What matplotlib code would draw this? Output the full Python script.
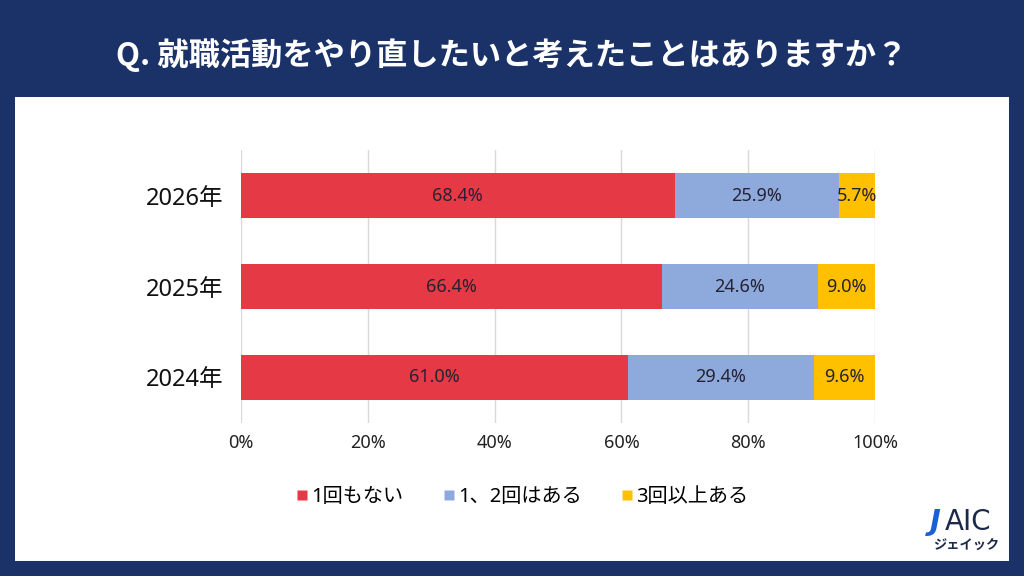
import matplotlib
matplotlib.use("Agg")
import matplotlib.pyplot as plt
from matplotlib.lines import Line2D

plt.rcParams['font.family'] = ['Noto Sans', 'Noto Sans CJK JP', 'DejaVu Sans']

# data
years = ['2024年', '2025年', '2026年']
series_names = ['1回もない', '1、2回はある', '3回以上ある']
never = [61.0, 66.4, 68.4]
once_twice = [29.4, 24.6, 25.9]
three_plus = [9.6, 9.0, 5.7]
x_ticks = [0, 20, 40, 60, 80, 100]

NAVY = '#1b3269'
colors = ['#e63946', '#8eaadc', '#ffc000']

fig = plt.figure(figsize=(10.24, 5.76), dpi=100)
fig.patch.set_facecolor(NAVY)

# white panel behind the chart
bg = fig.add_axes([15/1024, 1-561/576, (1009-15)/1024, (561-97)/576], zorder=-1)
bg.set_facecolor('white')
bg.set_xticks([])
bg.set_yticks([])
for s in bg.spines.values():
    s.set_visible(False)

fig.text(0.5, 1-55/576, 'Q. 就職活動をやり直したいと考えたことはありますか？',
         ha='center', va='center', color='white', fontsize=22.5, fontweight='bold',
         family=['Noto Sans CJK JP', 'DejaVu Sans'])

ax = fig.add_axes([241/1024, 1-423/576, (875-241)/1024, (423-150)/576], zorder=1)
ax.set_facecolor('none')

pos = list(range(len(years)))
lefts = [0]*len(years)
for vals, c in zip([never, once_twice, three_plus], colors):
    bars = ax.barh(pos, vals, left=lefts, height=0.49, color=c, zorder=3)
    for b, v in zip(bars, vals):
        ax.text(b.get_x() + b.get_width()/2, b.get_y() + b.get_height()/2,
                f'{v:.1f}%', ha='center', va='center', fontsize=13,
                color='#262233', zorder=4)
    lefts = [l + v for l, v in zip(lefts, vals)]

ax.set_xlim(0, 100)
ax.set_ylim(-0.5, 2.5)
ax.set_xticks(x_ticks)
ax.set_xticklabels([f'{t}%' for t in x_ticks], fontsize=13, color='#222222')
ax.set_yticks(pos)
ax.set_yticklabels(years, fontsize=17, color='#111111')
ax.tick_params(length=0)
ax.tick_params(axis='x', pad=8)
ax.tick_params(axis='y', pad=12.5)
ax.grid(axis='x', color='#d9d9d9', linewidth=1, zorder=0)
for s in ax.spines.values():
    s.set_visible(False)

handles = [Line2D([], [], marker='s', linestyle='none', markersize=7,
                  markerfacecolor=c, markeredgecolor='none') for c in colors]
fig.legend(handles, series_names, loc='center', bbox_to_anchor=(0.509, 1-497/576),
           ncol=3, frameon=False, fontsize=14.5, handletextpad=0.05,
           columnspacing=1.85, handlelength=0.8)

# logo
fig.text(930/1024, 1-522/576, 'J', ha='left', va='center', fontsize=21,
         fontweight='bold', color='#1a5fd6', style='italic', family='DejaVu Sans')
fig.text(945/1024, 1-522/576, 'AIC', ha='left', va='center', fontsize=20,
         color='#1b2a4a', family='DejaVu Sans')
fig.text(966/1024, 1-545/576, 'ジェイック', ha='center', va='center', fontsize=9.5,
         fontweight='bold', color='#1b2a4a', family=['Noto Sans CJK JP'])

fig.savefig('out.png', dpi=100, facecolor=fig.get_facecolor())
